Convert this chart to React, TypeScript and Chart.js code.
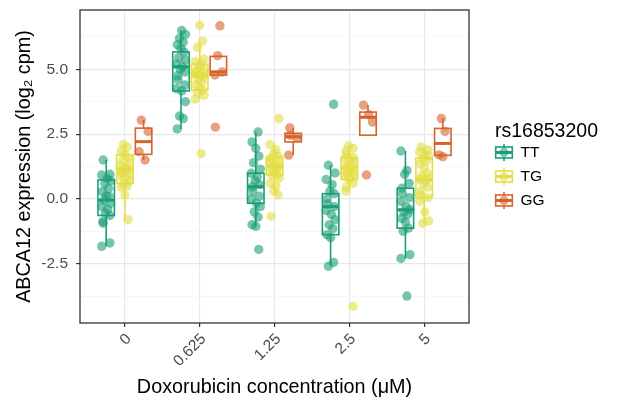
import React, { useEffect, useRef } from "react";
import { Chart, registerables } from "chart.js";

Chart.register(...registerables);

// ---------- data ----------
const CATEGORIES = ["0", "0.625", "1.25", "2.5", "5"];
const GENOTYPES = ["TT", "TG", "GG"];
const LEGEND_TITLE = "rs16853200";
const X_TITLE = "Doxorubicin concentration (\u03bcM)";
const Y_TITLE = "ABCA12 expression (log\u2082 cpm)";
const Y_MAJOR = [-2.5, 0, 2.5, 5];
const Y_MINOR = [-3.75, -1.25, 1.25, 3.75, 6.25];

// expression values per concentration
const TT_POINTS = [
  [1.5, 0.95, 0.92, 0.79, 0.7, 0.6, 0.4, 0.28, 0.1, 0.09, -0.05, -0.17, -0.29, -0.4, -0.55, -0.64, -0.87, -0.94, -1.7, -1.83],
  [6.5, 6.35, 6.2, 6.05, 5.95, 5.8, 5.67, 5.45, 5.35, 5.2, 5.1, 5.0, 4.9, 4.75, 4.6, 4.4, 4.25, 4.17, 3.75, 3.2, 3.1, 2.7],
  [2.58, 2.2, 1.95, 1.65, 1.4, 1.15, 0.99, 0.85, 0.7, 0.55, 0.47, 0.3, 0.1, 0.0, -0.17, -0.3, -0.5, -0.7, -1.0, -1.06, -1.95],
  [3.65, 1.3, 1.0, 0.75, 0.55, 0.3, 0.2, 0.0, -0.2, -0.3, -0.45, -0.6, -0.8, -1.0, -1.15, -1.38, -1.5, -2.45, -2.6],
  [1.85, 1.1, 0.95, 0.6, 0.41, 0.2, 0.05, -0.1, -0.3, -0.42, -0.5, -0.6, -0.75, -0.9, -1.13, -1.25, -2.15, -2.3, -3.75],
];
const TG_POINTS = [
  [2.1, 2.0, 1.85, 1.7, 1.6, 1.5, 1.4, 1.3, 1.2, 1.15, 1.1, 1.05, 1.0, 0.95, 0.9, 0.8, 0.7, 0.6, 0.5, 0.45, 0.15, -0.8],
  [6.7, 6.1, 5.85, 5.4, 5.3, 5.2, 5.1, 5.0, 4.95, 4.9, 4.85, 4.8, 4.75, 4.7, 4.6, 4.5, 4.4, 4.3, 4.2, 4.1, 4.0, 3.85, 1.75],
  [3.1, 2.1, 1.9, 1.75, 1.65, 1.6, 1.5, 1.45, 1.4, 1.3, 1.25, 1.2, 1.15, 1.1, 1.0, 0.95, 0.9, 0.8, 0.6, 0.5, 0.3, 0.15, -0.68],
  [2.05, 1.95, 1.85, 1.7, 1.6, 1.55, 1.5, 1.4, 1.3, 1.25, 1.2, 1.1, 1.05, 1.0, 0.95, 0.9, 0.8, 0.75, 0.6, 0.45, 0.3, -4.15],
  [2.0, 1.9, 1.8, 1.7, 1.65, 1.55, 1.45, 1.35, 1.2, 1.0, 0.9, 0.8, 0.75, 0.7, 0.6, 0.45, 0.3, 0.15, 0.05, -0.1, -0.5, -0.85, -0.95],
];
const GG_POINTS = [
  [3.04, 2.6, 1.82, 1.5],
  [6.68, 5.53, 4.9, 4.78, 2.77],
  [2.74, 2.45, 2.35, 1.69],
  [3.62, 3.25, 2.97, 0.92],
  [3.1, 2.6, 1.7, 1.63],
];

// box statistics per concentration: [lower whisker, Q1, median, Q3, upper whisker]
const TT_BOX = [
  [-1.83, -0.64, -0.05, 0.73, 1.5],
  [2.7, 4.17, 5.1, 5.67, 6.5],
  [-1.06, -0.17, 0.47, 0.99, 2.58],
  [-2.6, -1.38, -0.3, 0.2, 1.3],
  [-2.3, -1.13, -0.42, 0.41, 1.85],
];
const TG_BOX = [
  [-0.8, 0.6, 1.15, 1.7, 2.1],
  [3.85, 4.2, 4.75, 5.2, 6.1],
  [0.15, 0.92, 1.25, 1.63, 2.1],
  [0.3, 0.75, 1.2, 1.58, 2.05],
  [-0.95, 0.06, 0.75, 1.58, 2.0],
];
const GG_BOX = [
  [1.5, 1.72, 2.21, 2.73, 3.04],
  [4.78, 4.78, 4.9, 5.5, 5.53],
  [1.69, 2.2, 2.4, 2.53, 2.74],
  [2.46, 2.46, 3.15, 3.35, 3.62],
  [1.63, 1.68, 2.14, 2.72, 3.1],
];

// ---------- styles ----------
const POINTS = [TT_POINTS, TG_POINTS, GG_POINTS];
const BOXES = [TT_BOX, TG_BOX, GG_BOX];
const COLORS = ["#1b9e77", "#e3de45", "#d7622a"];
const FILLS = ["rgba(27,158,119,0.6)", "rgba(227,222,69,0.6)", "rgba(215,98,42,0.6)"];
const DODGE = [-0.25, 0, 0.25];
const BOX_HALF = 0.11;
const JITTER = [-0.04, 0.05, -0.06, 0.01, 0.06, -0.02, 0.03, -0.05, 0.0, 0.04, -0.03, 0.06, -0.06, 0.02, -0.01, 0.05, -0.045];
const FONT = '"Liberation Sans", Arial, Helvetica, sans-serif';
const POINT_R = 4.7;
const TITLE_SIZE = 19.8;

const boxPlugin = {
  id: "ggBoxes",
  beforeDatasetsDraw(chart: any) {
    const { ctx, scales, chartArea } = chart;
    const x = scales.x;
    const y = scales.y;
    ctx.save();
    ctx.beginPath();
    ctx.rect(chartArea.left, chartArea.top, chartArea.right - chartArea.left, chartArea.bottom - chartArea.top);
    ctx.clip();
    BOXES.forEach((boxes, g) => {
      boxes.forEach((b, c) => {
        const [lo, q1, med, q3, hi] = b;
        const cx = c + 1 + DODGE[g];
        const xl = x.getPixelForValue(cx - BOX_HALF);
        const xr = x.getPixelForValue(cx + BOX_HALF);
        const xm = x.getPixelForValue(cx);
        const yLo = y.getPixelForValue(lo);
        const yQ1 = y.getPixelForValue(q1);
        const yMed = y.getPixelForValue(med);
        const yQ3 = y.getPixelForValue(q3);
        const yHi = y.getPixelForValue(hi);
        ctx.strokeStyle = COLORS[g];
        ctx.lineWidth = 1.6;
        ctx.beginPath();
        ctx.moveTo(xm, yHi);
        ctx.lineTo(xm, yQ3);
        ctx.moveTo(xm, yQ1);
        ctx.lineTo(xm, yLo);
        ctx.stroke();
        ctx.fillStyle = "#ffffff";
        ctx.fillRect(xl, yQ3, xr - xl, yQ1 - yQ3);
        ctx.strokeRect(xl, yQ3, xr - xl, yQ1 - yQ3);
        ctx.lineWidth = 3;
        ctx.beginPath();
        ctx.moveTo(xl, yMed);
        ctx.lineTo(xr, yMed);
        ctx.stroke();
      });
    });
    ctx.restore();
  },
};

const framePlugin = {
  id: "ggFrameLegend",
  afterDraw(chart: any) {
    const { ctx, chartArea } = chart;
    ctx.save();
    // panel border
    ctx.strokeStyle = "#333333";
    ctx.lineWidth = 1.3;
    ctx.strokeRect(chartArea.left, chartArea.top, chartArea.right - chartArea.left, chartArea.bottom - chartArea.top);

    // legend
    const x0 = chartArea.right + 26;
    const mid = (chartArea.top + chartArea.bottom) / 2;
    ctx.fillStyle = "#000000";
    ctx.font = `19.5px ${FONT}`;
    ctx.textAlign = "left";
    ctx.textBaseline = "alphabetic";
    ctx.fillText(LEGEND_TITLE, x0, mid - 30);
    GENOTYPES.forEach((name, g) => {
      const cy = mid - 14 + g * 24;
      const kx = x0 + 9;
      ctx.strokeStyle = COLORS[g];
      ctx.lineWidth = 1.6;
      ctx.beginPath();
      ctx.moveTo(kx, cy - 8.5);
      ctx.lineTo(kx, cy + 8.5);
      ctx.stroke();
      ctx.fillStyle = "#ffffff";
      ctx.fillRect(kx - 8.3, cy - 5.5, 16.6, 11);
      ctx.strokeRect(kx - 8.3, cy - 5.5, 16.6, 11);
      ctx.lineWidth = 3;
      ctx.beginPath();
      ctx.moveTo(kx - 8.3, cy);
      ctx.lineTo(kx + 8.3, cy);
      ctx.stroke();
      ctx.fillStyle = FILLS[g];
      ctx.beginPath();
      ctx.arc(kx, cy, POINT_R, 0, Math.PI * 2);
      ctx.fill();
      ctx.fillStyle = "#000000";
      ctx.font = `15.5px ${FONT}`;
      ctx.textBaseline = "middle";
      ctx.fillText(name, x0 + 25.5, cy + 0.5);
    });
    ctx.restore();
  },
};

export default function App() {
  const ref = useRef<HTMLCanvasElement | null>(null);

  useEffect(() => {
    if (!ref.current) return;
    const datasets = POINTS.map((groups, g) => ({
      type: "scatter" as const,
      label: GENOTYPES[g],
      data: groups.flatMap((vals, c) =>
        vals.map((v, i) => ({
          x: c + 1 + DODGE[g] + JITTER[(i + g * 5 + c * 3) % JITTER.length],
          y: v,
        }))
      ),
      backgroundColor: FILLS[g],
      borderWidth: 0,
      pointRadius: POINT_R,
      pointHoverRadius: POINT_R,
    }));

    const isMajor = (v: number) => Y_MAJOR.some((m) => Math.abs(m - v) < 1e-9);

    const chart = new Chart(ref.current, {
      type: "scatter",
      data: { datasets },
      plugins: [boxPlugin, framePlugin],
      options: {
        animation: false,
        responsive: true,
        maintainAspectRatio: false,
        layout: { autoPadding: false, padding: { left: 0, top: 10, right: 148, bottom: 0 } },
        plugins: {
          legend: { display: false },
          tooltip: { enabled: false },
        },
        scales: {
          x: {
            type: "linear",
            min: 0.4,
            max: 5.6,
            afterBuildTicks: (s: any) => {
              s.ticks = CATEGORIES.map((_, i) => ({ value: i + 1 }));
            },
            afterFit: (s: any) => {
              s.height = 88;
              s.paddingLeft = 0;
              s.paddingRight = 0;
            },
            ticks: {
              autoSkip: false,
              minRotation: 45,
              maxRotation: 45,
              padding: 3,
              labelOffset: 4,
              color: "#4d4d4d",
              font: { family: FONT, size: 15.5 },
              callback: (v: any) => CATEGORIES[Math.round(Number(v)) - 1] ?? "",
            },
            grid: {
              color: "#e8e8e8",
              lineWidth: 1.2,
              tickLength: 4,
              tickColor: "#333333",
              tickWidth: 1.2,
            },
            border: { display: false },
            title: {
              display: true,
              text: X_TITLE,
              color: "#000000",
              font: { family: FONT, size: TITLE_SIZE },
              padding: { top: 0, bottom: 12 },
            },
          },
          y: {
            type: "linear",
            min: -4.79,
            max: 7.29,
            afterBuildTicks: (s: any) => {
              s.ticks = [...Y_MAJOR, ...Y_MINOR].sort((a, b) => a - b).map((v) => ({ value: v }));
            },
            afterFit: (s: any) => {
              s.width = 80;
              s.paddingTop = 0;
              s.paddingBottom = 0;
            },
            ticks: {
              autoSkip: false,
              padding: 8,
              color: "#4d4d4d",
              font: { family: FONT, size: 15.5 },
              callback: (v: any) => (isMajor(Number(v)) ? Number(v).toFixed(1) : ""),
            },
            grid: {
              color: (c: any) => (isMajor(c.tick.value) ? "#e8e8e8" : "#f3f3f3"),
              lineWidth: (c: any) => (isMajor(c.tick.value) ? 1.2 : 0.7),
              tickLength: 4,
              tickColor: (c: any) => (isMajor(c.tick.value) ? "#333333" : "rgba(0,0,0,0)"),
              tickWidth: 1.2,
            },
            border: { display: false },
            title: {
              display: true,
              text: Y_TITLE,
              color: "#000000",
              font: { family: FONT, size: TITLE_SIZE },
              padding: { top: 13, bottom: 0 },
            },
          },
        },
      } as any,
    });
    return () => chart.destroy();
  }, []);

  return (
    <div style={{ position: "fixed", left: 0, top: 0, width: 617, height: 411, background: "#ffffff" }}>
      <canvas ref={ref} />
    </div>
  );
}
